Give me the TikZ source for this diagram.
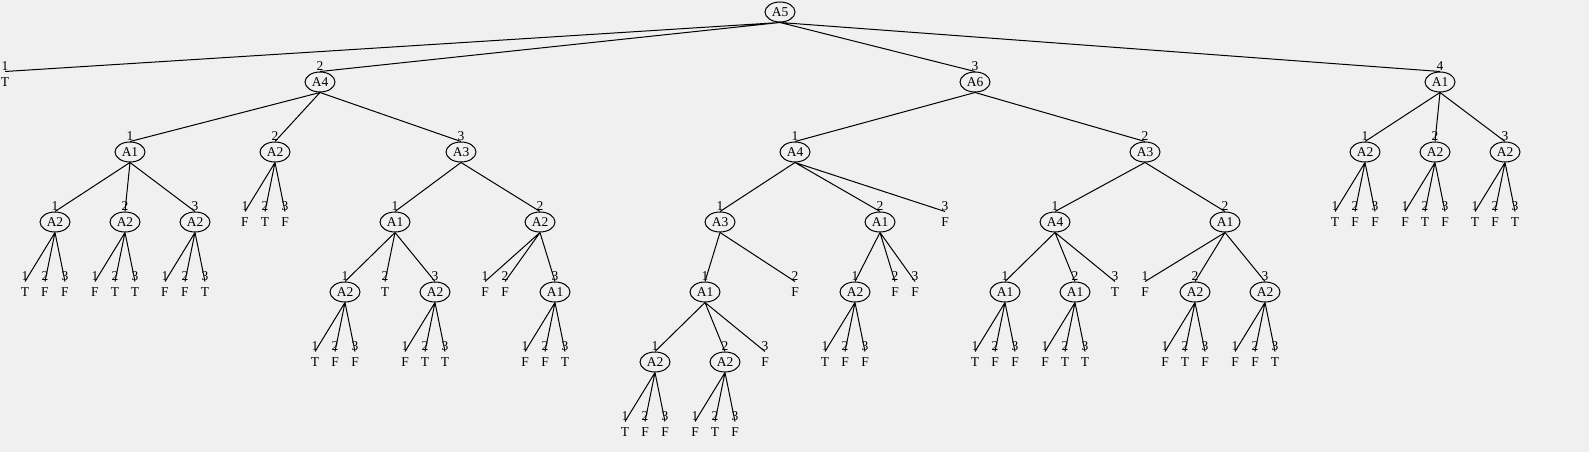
\documentclass[tikz,border=0pt]{standalone}
\usepackage{fontspec}
\setmainfont{Liberation Serif}
\usepackage{xcolor}
\usepackage{tikz}
\usetikzlibrary{shapes.geometric}

\definecolor{bgray}{RGB}{240,240,240}

\begin{document}
\begin{tikzpicture}[x=1pt,y=-1pt,font=\fontsize{13.5}{15}\selectfont,
    line width=1pt,
    att/.style={draw,ellipse,minimum width=30pt,minimum height=20pt,
                inner sep=0pt},
    leaf/.style={minimum height=20pt,inner sep=0pt},
    num/.style={inner sep=0pt},
    label distance=0.5pt]
  \fill[bgray] (0,0) rectangle (1589,452);
  \useasboundingbox (0,0) rectangle (1589,452);

  % root and first level
  \node[att] (r) at (780,12) {A5};
  \node[leaf,label={[num]above:1}] (r1) at (5,82) {T};
  \node[att,label={[num]above:2}] (r2) at (320,82) {A4};
  \node[att,label={[num]above:3}] (r3) at (975,82) {A6};
  \node[att,label={[num]above:4}] (r4) at (1440,82) {A1};

  % subtree under A4
  \node[att,label={[num]above:1}] (r21) at (130,152) {A1};
  \node[att,label={[num]above:1}] (r211) at (55,222) {A2};
  \node[leaf,label={[num]above:1}] (r2111) at (25,292) {T};
  \node[leaf,label={[num]above:2}] (r2112) at (45,292) {F};
  \node[leaf,label={[num]above:3}] (r2113) at (65,292) {F};
  \node[att,label={[num]above:2}] (r212) at (125,222) {A2};
  \node[leaf,label={[num]above:1}] (r2121) at (95,292) {F};
  \node[leaf,label={[num]above:2}] (r2122) at (115,292) {T};
  \node[leaf,label={[num]above:3}] (r2123) at (135,292) {T};
  \node[att,label={[num]above:3}] (r213) at (195,222) {A2};
  \node[leaf,label={[num]above:1}] (r2131) at (165,292) {F};
  \node[leaf,label={[num]above:2}] (r2132) at (185,292) {F};
  \node[leaf,label={[num]above:3}] (r2133) at (205,292) {T};

  \node[att,label={[num]above:2}] (r22) at (275,152) {A2};
  \node[leaf,label={[num]above:1}] (r221) at (245,222) {F};
  \node[leaf,label={[num]above:2}] (r222) at (265,222) {T};
  \node[leaf,label={[num]above:3}] (r223) at (285,222) {F};

  \node[att,label={[num]above:3}] (r23) at (461,152) {A3};
  \node[att,label={[num]above:1}] (r231) at (395,222) {A1};
  \node[att,label={[num]above:1}] (r2311) at (345,292) {A2};
  \node[leaf,label={[num]above:1}] (r23111) at (315,362) {T};
  \node[leaf,label={[num]above:2}] (r23112) at (335,362) {F};
  \node[leaf,label={[num]above:3}] (r23113) at (355,362) {F};
  \node[leaf,label={[num]above:2}] (r2312) at (385,292) {T};
  \node[att,label={[num]above:3}] (r2313) at (435,292) {A2};
  \node[leaf,label={[num]above:1}] (r23131) at (405,362) {F};
  \node[leaf,label={[num]above:2}] (r23132) at (425,362) {T};
  \node[leaf,label={[num]above:3}] (r23133) at (445,362) {T};
  \node[att,label={[num]above:2}] (r232) at (540,222) {A2};
  \node[leaf,label={[num]above:1}] (r2321) at (485,292) {F};
  \node[leaf,label={[num]above:2}] (r2322) at (505,292) {F};
  \node[att,label={[num]above:3}] (r2323) at (555,292) {A1};
  \node[leaf,label={[num]above:1}] (r23231) at (525,362) {F};
  \node[leaf,label={[num]above:2}] (r23232) at (545,362) {F};
  \node[leaf,label={[num]above:3}] (r23233) at (565,362) {T};

  % subtree under A6
  \node[att,label={[num]above:1}] (r31) at (795,152) {A4};
  \node[att,label={[num]above:1}] (r311) at (720,222) {A3};
  \node[att,label={[num]above:1}] (r3111) at (705,292) {A1};
  \node[att,label={[num]above:1}] (r31111) at (655,362) {A2};
  \node[leaf,label={[num]above:1}] (r311111) at (625,432) {T};
  \node[leaf,label={[num]above:2}] (r311112) at (645,432) {F};
  \node[leaf,label={[num]above:3}] (r311113) at (665,432) {F};
  \node[att,label={[num]above:2}] (r31112) at (725,362) {A2};
  \node[leaf,label={[num]above:1}] (r311121) at (695,432) {F};
  \node[leaf,label={[num]above:2}] (r311122) at (715,432) {T};
  \node[leaf,label={[num]above:3}] (r311123) at (735,432) {F};
  \node[leaf,label={[num]above:3}] (r31113) at (765,362) {F};
  \node[leaf,label={[num]above:2}] (r3112) at (795,292) {F};
  \node[att,label={[num]above:2}] (r312) at (880,222) {A1};
  \node[att,label={[num]above:1}] (r3121) at (855,292) {A2};
  \node[leaf,label={[num]above:1}] (r31211) at (825,362) {T};
  \node[leaf,label={[num]above:2}] (r31212) at (845,362) {F};
  \node[leaf,label={[num]above:3}] (r31213) at (865,362) {F};
  \node[leaf,label={[num]above:2}] (r3122) at (895,292) {F};
  \node[leaf,label={[num]above:3}] (r3123) at (915,292) {F};
  \node[leaf,label={[num]above:3}] (r313) at (945,222) {F};

  \node[att,label={[num]above:2}] (r32) at (1145,152) {A3};
  \node[att,label={[num]above:1}] (r321) at (1055,222) {A4};
  \node[att,label={[num]above:1}] (r3211) at (1005,292) {A1};
  \node[leaf,label={[num]above:1}] (r32111) at (975,362) {T};
  \node[leaf,label={[num]above:2}] (r32112) at (995,362) {F};
  \node[leaf,label={[num]above:3}] (r32113) at (1015,362) {F};
  \node[att,label={[num]above:2}] (r3212) at (1075,292) {A1};
  \node[leaf,label={[num]above:1}] (r32121) at (1045,362) {F};
  \node[leaf,label={[num]above:2}] (r32122) at (1065,362) {T};
  \node[leaf,label={[num]above:3}] (r32123) at (1085,362) {T};
  \node[leaf,label={[num]above:3}] (r3213) at (1115,292) {T};
  \node[att,label={[num]above:2}] (r322) at (1225,222) {A1};
  \node[leaf,label={[num]above:1}] (r3221) at (1145,292) {F};
  \node[att,label={[num]above:2}] (r3222) at (1195,292) {A2};
  \node[leaf,label={[num]above:1}] (r32221) at (1165,362) {F};
  \node[leaf,label={[num]above:2}] (r32222) at (1185,362) {T};
  \node[leaf,label={[num]above:3}] (r32223) at (1205,362) {F};
  \node[att,label={[num]above:3}] (r3223) at (1265,292) {A2};
  \node[leaf,label={[num]above:1}] (r32231) at (1235,362) {F};
  \node[leaf,label={[num]above:2}] (r32232) at (1255,362) {F};
  \node[leaf,label={[num]above:3}] (r32233) at (1275,362) {T};

  % subtree under A1 (right)
  \node[att,label={[num]above:1}] (r41) at (1365,152) {A2};
  \node[leaf,label={[num]above:1}] (r411) at (1335,222) {T};
  \node[leaf,label={[num]above:2}] (r412) at (1355,222) {F};
  \node[leaf,label={[num]above:3}] (r413) at (1375,222) {F};
  \node[att,label={[num]above:2}] (r42) at (1435,152) {A2};
  \node[leaf,label={[num]above:1}] (r421) at (1405,222) {F};
  \node[leaf,label={[num]above:2}] (r422) at (1425,222) {T};
  \node[leaf,label={[num]above:3}] (r423) at (1445,222) {F};
  \node[att,label={[num]above:3}] (r43) at (1505,152) {A2};
  \node[leaf,label={[num]above:1}] (r431) at (1475,222) {T};
  \node[leaf,label={[num]above:2}] (r432) at (1495,222) {F};
  \node[leaf,label={[num]above:3}] (r433) at (1515,222) {T};

  % branches
  \draw (r.south) -- (r1.north) (r.south) -- (r2.north)
        (r.south) -- (r3.north) (r.south) -- (r4.north);
  \draw (r2.south) -- (r21.north) (r2.south) -- (r22.north)
        (r2.south) -- (r23.north);
  \draw (r21.south) -- (r211.north) (r21.south) -- (r212.north)
        (r21.south) -- (r213.north);
  \draw (r211.south) -- (r2111.north) (r211.south) -- (r2112.north)
        (r211.south) -- (r2113.north);
  \draw (r212.south) -- (r2121.north) (r212.south) -- (r2122.north)
        (r212.south) -- (r2123.north);
  \draw (r213.south) -- (r2131.north) (r213.south) -- (r2132.north)
        (r213.south) -- (r2133.north);
  \draw (r22.south) -- (r221.north) (r22.south) -- (r222.north)
        (r22.south) -- (r223.north);
  \draw (r23.south) -- (r231.north) (r23.south) -- (r232.north);
  \draw (r231.south) -- (r2311.north) (r231.south) -- (r2312.north)
        (r231.south) -- (r2313.north);
  \draw (r2311.south) -- (r23111.north) (r2311.south) -- (r23112.north)
        (r2311.south) -- (r23113.north);
  \draw (r2313.south) -- (r23131.north) (r2313.south) -- (r23132.north)
        (r2313.south) -- (r23133.north);
  \draw (r232.south) -- (r2321.north) (r232.south) -- (r2322.north)
        (r232.south) -- (r2323.north);
  \draw (r2323.south) -- (r23231.north) (r2323.south) -- (r23232.north)
        (r2323.south) -- (r23233.north);

  \draw (r3.south) -- (r31.north) (r3.south) -- (r32.north);
  \draw (r31.south) -- (r311.north) (r31.south) -- (r312.north)
        (r31.south) -- (r313.north);
  \draw (r311.south) -- (r3111.north) (r311.south) -- (r3112.north);
  \draw (r3111.south) -- (r31111.north) (r3111.south) -- (r31112.north)
        (r3111.south) -- (r31113.north);
  \draw (r31111.south) -- (r311111.north) (r31111.south) -- (r311112.north)
        (r31111.south) -- (r311113.north);
  \draw (r31112.south) -- (r311121.north) (r31112.south) -- (r311122.north)
        (r31112.south) -- (r311123.north);
  \draw (r312.south) -- (r3121.north) (r312.south) -- (r3122.north)
        (r312.south) -- (r3123.north);
  \draw (r3121.south) -- (r31211.north) (r3121.south) -- (r31212.north)
        (r3121.south) -- (r31213.north);
  \draw (r32.south) -- (r321.north) (r32.south) -- (r322.north);
  \draw (r321.south) -- (r3211.north) (r321.south) -- (r3212.north)
        (r321.south) -- (r3213.north);
  \draw (r3211.south) -- (r32111.north) (r3211.south) -- (r32112.north)
        (r3211.south) -- (r32113.north);
  \draw (r3212.south) -- (r32121.north) (r3212.south) -- (r32122.north)
        (r3212.south) -- (r32123.north);
  \draw (r322.south) -- (r3221.north) (r322.south) -- (r3222.north)
        (r322.south) -- (r3223.north);
  \draw (r3222.south) -- (r32221.north) (r3222.south) -- (r32222.north)
        (r3222.south) -- (r32223.north);
  \draw (r3223.south) -- (r32231.north) (r3223.south) -- (r32232.north)
        (r3223.south) -- (r32233.north);

  \draw (r4.south) -- (r41.north) (r4.south) -- (r42.north)
        (r4.south) -- (r43.north);
  \draw (r41.south) -- (r411.north) (r41.south) -- (r412.north)
        (r41.south) -- (r413.north);
  \draw (r42.south) -- (r421.north) (r42.south) -- (r422.north)
        (r42.south) -- (r423.north);
  \draw (r43.south) -- (r431.north) (r43.south) -- (r432.north)
        (r43.south) -- (r433.north);
\end{tikzpicture}
\end{document}
